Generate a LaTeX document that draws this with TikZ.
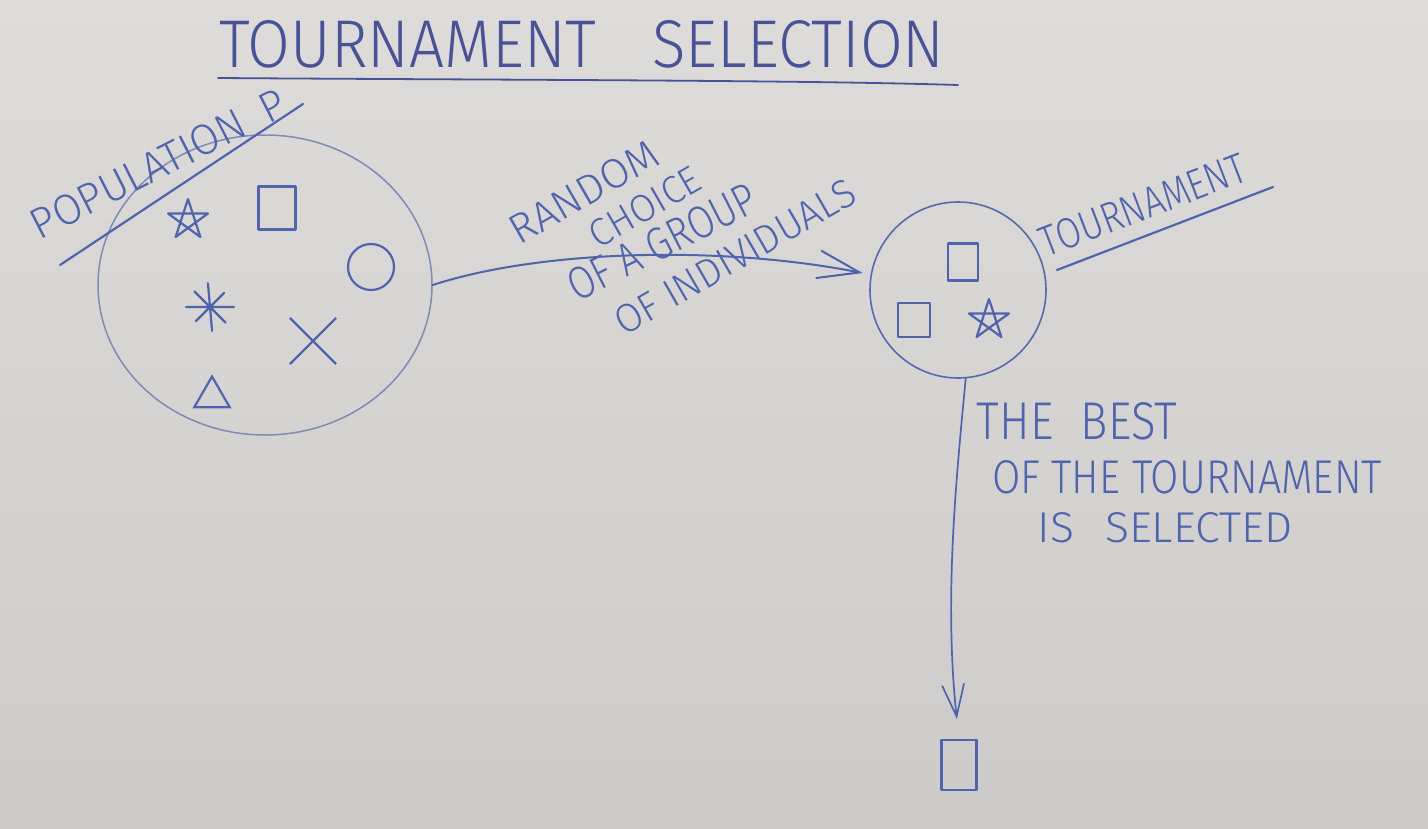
\documentclass[tikz,border=0pt]{standalone}
\usepackage{fontspec}
\setmainfont{Fira Sans Light}
\usepackage{graphicx}
\usetikzlibrary{shapes.geometric,shapes.misc,arrows.meta}
\definecolor{paperA}{RGB}{221,220,218}
\definecolor{paperB}{RGB}{205,203,201}
\definecolor{ink}{RGB}{80,100,172}
\definecolor{inkdark}{RGB}{72,82,148}
\definecolor{pencil}{RGB}{128,138,180}
\newcommand\hw[3]{\resizebox{#1pt}{#2pt}{#3}}
\begin{document}
\begin{tikzpicture}[x=1pt,y=-1pt,
  txt/.style={inner sep=0pt, text=ink},
  pen/.style={draw=ink, line width=2.2pt, line cap=round, line join=round},
  thinline/.style={draw=pencil, line width=1.5pt},
  sym/.style={pen, inner sep=0pt},
  pentagram/.pic={\draw[pen] (-90:21) -- (54:21) -- (198:21) -- (342:21) -- (126:21) -- cycle;},
  asterisk/.pic={\draw[pen] (-95:24) -- (85:24) (180:24) -- (0:24) (-135:22) -- (45:22) (-45:20) -- (135:20);}
]
\shade[top color=paperA, bottom color=paperB] (0,0) rectangle (1428,828);
\useasboundingbox (0,0) rectangle (1428,828);

% title
\node[txt, text=inkdark] (title) at (582,44) {\hw{725}{47}{TOURNAMENT\hspace{0.9em}SELECTION}};
\draw[pen, draw=inkdark, line width=1.8pt] (218,78) .. controls (500,80) and (800,80) .. (958,85);

% population
\node[ellipse, thinline, minimum width=334pt, minimum height=300pt] (pop) at (265,285) {};
\node[txt, rotate=27] (poplbl) at (158,164) {\hw{280}{30}{POPULATION\hspace{0.5em}P}};
\draw[pen] (60,265) -- (303,104);
\pic (p1) at (188,220) {pentagram};
\node[sym, rectangle, minimum width=37pt, minimum height=43pt] (p2) at (277,208) {};
\node[sym, circle, minimum size=46pt] (p3) at (371,267) {};
\pic (p4) at (210,307) {asterisk};
\node[cross out, draw=ink, line width=2.2pt, inner sep=0pt, minimum size=44pt] (p5) at (313,341) {};
\node[regular polygon, regular polygon sides=3, draw=ink, line width=2.2pt, inner sep=0pt, minimum size=41pt] (p6) at (212,397) {};

% tournament
\node[circle, draw=ink!85!pencil, line width=1.6pt, minimum size=176pt] (tour) at (958,290) {};
\node[sym, rectangle, minimum width=30pt, minimum height=37pt] (t1) at (963,262) {};
\node[sym, rectangle, minimum width=32pt, minimum height=34pt] (t2) at (914,320) {};
\pic (t3) at (989,320) {pentagram};
\node[txt, rotate=21] (tlbl) at (1143,205) {\hw{217}{30}{TOURNAMENT}};
\draw[pen] (1057,270) -- (1273,187);

% random choice arrow
\draw[pen, line width=2pt, -{Straight Barb[length=42pt,width=28pt]}, shorten >=8pt]
  (pop.east) .. controls (540,250) and (720,245) .. (tour.170);
\node[txt, rotate=30] (r1) at (584,192) {\hw{165}{29}{RANDOM}};
\node[txt, rotate=30] (r2) at (645,207) {\hw{122}{27}{CHOICE}};
\node[txt, rotate=27] (r3) at (662,242) {\hw{206}{32}{OF A GROUP}};
\node[txt, rotate=30] (r4) at (735,257) {\hw{271}{28}{OF INDIVIDUALS}};

% winner
\node[sym, rectangle, minimum width=35pt, minimum height=50pt] (win) at (959,765) {};
\draw[pen, line width=1.7pt, -{Straight Barb[length=32pt,width=22pt]}, shorten >=20pt]
  (tour.-85) .. controls (956,480) and (944,600) .. (win.north);
\node[txt] (b1) at (1077,421) {\hw{200}{37}{THE\hspace{0.6em}BEST}};
\node[txt] (b2) at (1187,477) {\hw{390}{33}{OF THE TOURNAMENT}};
\node[txt] (b3) at (1165,528) {\hw{255}{30}{IS\hspace{0.7em}SELECTED}};
\end{tikzpicture}
\end{document}
